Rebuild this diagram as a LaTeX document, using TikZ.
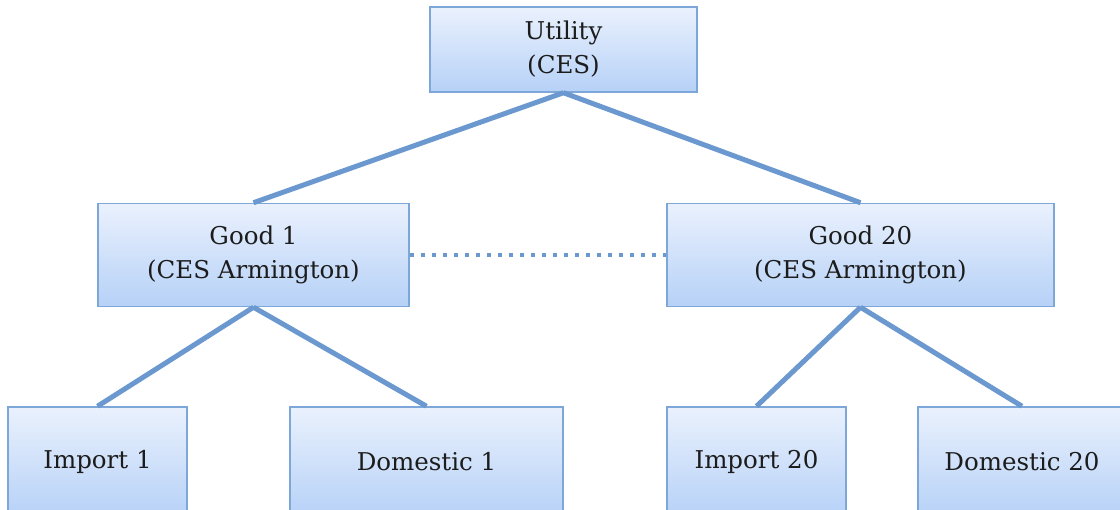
\documentclass[tikz,border=0pt]{standalone}
\usepackage{xcolor}
\usepackage{fontspec}
\setmainfont{DejaVu Serif}
\usepackage{tikz}
\usetikzlibrary{arrows}
\definecolor{boxtop}{HTML}{EAF1FD}
\definecolor{boxbottom}{HTML}{B6D1F7}
\definecolor{boxline}{HTML}{7EA7D9}
\definecolor{linkline}{HTML}{6A98CF}
\definecolor{boxtext}{HTML}{1C1C1C}

\begin{document}
\begin{tikzpicture}[x=1pt,y=1pt,
  box/.style={rectangle,draw=boxline,line width=1.5pt,top color=boxtop,bottom color=boxbottom,
    text=boxtext,align=center,inner sep=0pt,font=\fontsize{24.5}{34}\selectfont},
  link/.style={draw=linkline,line width=5pt}]
  \useasboundingbox (0,0) rectangle (1120,510);
  \node[box,minimum width=267pt,minimum height=85pt] (util) at (563.5,460.5) {Utility\\(CES)};
  \node[box,minimum width=311pt,minimum height=103pt] (g1) at (253.5,255) {Good 1\\(CES Armington)};
  \node[box,minimum width=387pt,minimum height=103pt] (g20) at (860.5,255) {Good 20\\(CES Armington)};
  \node[box,minimum width=179pt,minimum height=110pt] (imp1) at (97.5,48) {Import 1};
  \node[box,minimum width=273pt,minimum height=110pt] (dom1) at (426.5,48) {Domestic 1};
  \node[box,minimum width=179pt,minimum height=110pt] (imp20) at (756.5,48) {Import 20};
  \node[box,minimum width=208pt,minimum height=110pt] (dom20) at (1022,48) {Domestic 20};

  \path[link]
  (util.south) edge (g1.north)
  (util.south) edge (g20.north)
  (g1.south) edge (imp1.north)
  (g1.south) edge (dom1.north)
  (g20.south) edge (imp20.north)
  (g20.south) edge (dom20.north);
  \draw[linkline,line width=4pt,dash pattern=on 4pt off 7pt] (g1.east) -- (g20.west);
\end{tikzpicture}
\end{document}
